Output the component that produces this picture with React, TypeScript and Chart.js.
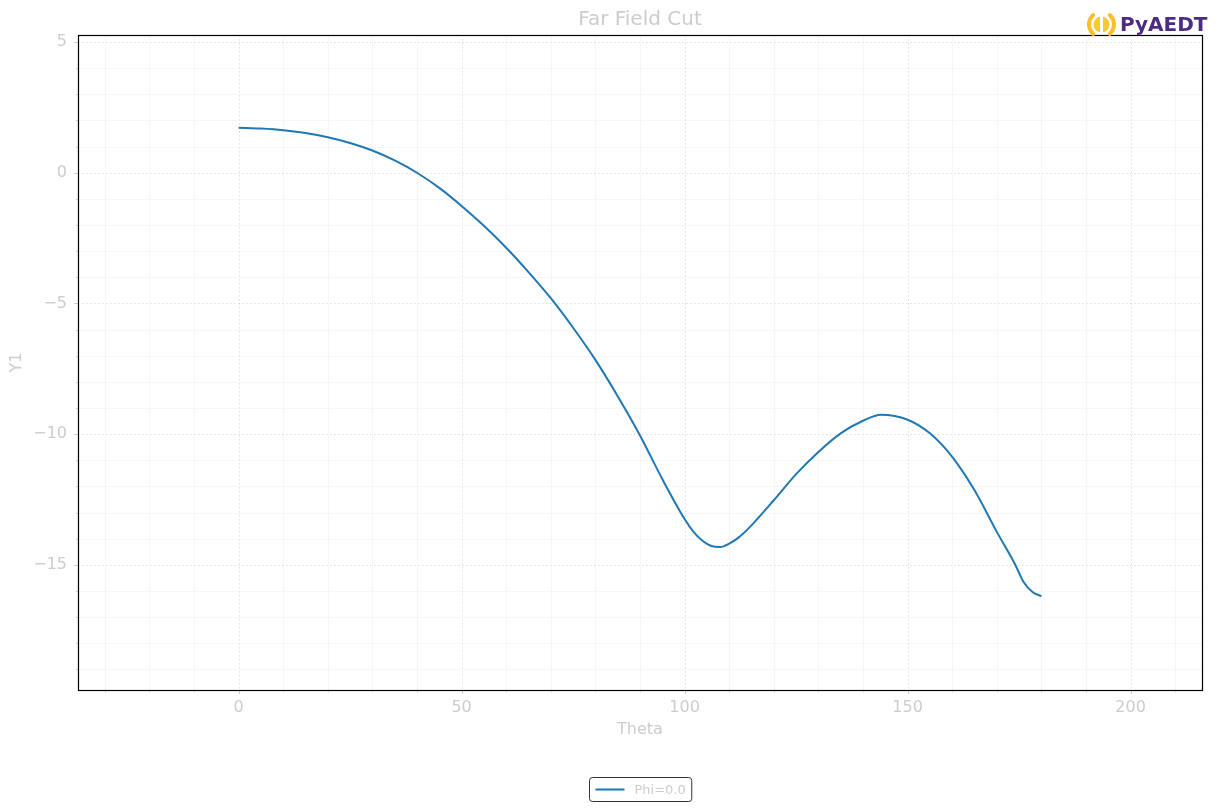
import React from "react"
import { Chart, registerables } from "chart.js"

Chart.register(...registerables)

// values
const theta = [
  0, 5, 10, 15, 20, 25, 30, 35, 40, 45, 50, 55, 60, 65, 70, 75, 80, 85, 90, 95, 100, 102, 104, 106, 108,
  110, 112, 115, 120, 125, 130, 135, 140, 144, 150, 155, 160, 165, 170, 174, 176, 178, 180,
]
const gain = [
  1.72, 1.69, 1.63, 1.52, 1.36, 1.14, 0.85, 0.47, 0.0, -0.58, -1.27, -2.03, -2.87, -3.8, -4.8, -5.93, -7.16,
  -8.55, -10.05, -11.72, -13.25, -13.74, -14.08, -14.28, -14.32, -14.19, -13.97, -13.49, -12.53, -11.53, -10.68,
  -9.97, -9.49, -9.26, -9.45, -9.97, -10.87, -12.15, -13.74, -14.95, -15.66, -16.04, -16.2,
]
const seriesLabel = "Phi=0.0"
const chartTitle = "Far Field Cut"
const xTitle = "Theta"
const yTitle = "Y1"
const xMajorTicks = [0, 50, 100, 150, 200]
const yMajorTicks = [-15, -10, -5, 0, 5]

const FONT = "'DejaVu Sans', sans-serif"
const TEXT = "#cccccc"
const LINE = "#1f77b4"

const minus = (v: number) => String(v).replace("-", "\u2212")

const decor = {
  id: "decor",
  beforeDatasetsDraw(chart: any) {
    const { ctx, chartArea: a, scales } = chart
    const sx = scales.x
    const sy = scales.y
    ctx.save()
    ctx.lineWidth = 1
    // minor grid
    ctx.strokeStyle = "#f6f6f6"
    for (const t of sx.ticks) {
      if (xMajorTicks.includes(t.value)) continue
      const px = Math.round(sx.getPixelForValue(t.value)) + 0.5
      ctx.beginPath(); ctx.moveTo(px, a.top); ctx.lineTo(px, a.bottom); ctx.stroke()
    }
    for (const t of sy.ticks) {
      if (yMajorTicks.includes(t.value)) continue
      const py = Math.round(sy.getPixelForValue(t.value)) + 0.5
      ctx.beginPath(); ctx.moveTo(a.left, py); ctx.lineTo(a.right, py); ctx.stroke()
    }
    // major grid, dotted
    ctx.strokeStyle = "#dedede"
    ctx.setLineDash([1.5, 2.5])
    for (const v of xMajorTicks) {
      const px = Math.round(sx.getPixelForValue(v)) + 0.5
      ctx.beginPath(); ctx.moveTo(px, a.top); ctx.lineTo(px, a.bottom); ctx.stroke()
    }
    for (const v of yMajorTicks) {
      const py = Math.round(sy.getPixelForValue(v)) + 0.5
      ctx.beginPath(); ctx.moveTo(a.left, py); ctx.lineTo(a.right, py); ctx.stroke()
    }
    ctx.restore()
  },
  afterDraw(chart: any) {
    const { ctx, chartArea: a, scales } = chart
    const sx = scales.x
    const sy = scales.y
    ctx.save()

    // tick marks
    ctx.strokeStyle = TEXT
    ctx.lineWidth = 1
    for (const t of sx.ticks) {
      const len = xMajorTicks.includes(t.value) ? 4 : 2
      const px = Math.round(sx.getPixelForValue(t.value)) + 0.5
      ctx.beginPath(); ctx.moveTo(px, a.bottom); ctx.lineTo(px, a.bottom + len); ctx.stroke()
    }
    for (const t of sy.ticks) {
      const len = yMajorTicks.includes(t.value) ? 4 : 2
      const py = Math.round(sy.getPixelForValue(t.value)) + 0.5
      ctx.beginPath(); ctx.moveTo(a.left, py); ctx.lineTo(a.left - len, py); ctx.stroke()
    }

    // frame
    ctx.strokeStyle = "#000"
    ctx.lineWidth = 1.2
    ctx.strokeRect(Math.round(a.left) + 0.5, Math.round(a.top) + 0.5, Math.round(a.right - a.left), Math.round(a.bottom - a.top))

    const cx = (a.left + a.right) / 2

    // title and axis titles
    ctx.fillStyle = TEXT
    ctx.textAlign = "center"
    ctx.textBaseline = "middle"
    ctx.font = `20px ${FONT}`
    ctx.fillText(chartTitle, cx, 20)
    ctx.font = `16px ${FONT}`
    ctx.fillText(xTitle, cx, 730)
    ctx.save()
    ctx.translate(17, (a.top + a.bottom) / 2)
    ctx.rotate(-Math.PI / 2)
    ctx.fillText(yTitle, 0, 0)
    ctx.restore()

    // legend
    const ds = chart.data.datasets[0]
    ctx.font = `13px ${FONT}`
    const tw = ctx.measureText(ds.label).width
    const bw = 6 + 29 + 10 + tw + 6
    const bx = Math.round(cx - bw / 2) + 0.5
    const by = 777.5
    const bh = 24
    ctx.fillStyle = "#fff"
    ctx.strokeStyle = "#333"
    ctx.lineWidth = 1
    ctx.beginPath()
    ctx.roundRect(bx, by, bw, bh, 3)
    ctx.fill()
    ctx.stroke()
    ctx.strokeStyle = ds.borderColor
    ctx.lineWidth = 2
    ctx.beginPath(); ctx.moveTo(bx + 6, by + bh / 2); ctx.lineTo(bx + 35, by + bh / 2); ctx.stroke()
    ctx.fillStyle = TEXT
    ctx.textAlign = "left"
    ctx.fillText(ds.label, bx + 45, by + bh / 2 + 1)

    // PyAEDT logo
    const lx = 1101.5
    const ly = 24.5
    ctx.strokeStyle = "#fdbd2c"
    ctx.lineCap = "round"
    for (const side of [0, 1]) {
      const s = side === 0 ? Math.PI : 0
      ctx.lineWidth = 4
      ctx.beginPath(); ctx.arc(lx, ly, 12.5, s - 0.85, s + 0.85); ctx.stroke()
    }
    ctx.fillStyle = "#ffc832"
    ctx.beginPath(); ctx.arc(lx, ly, 8, 0, Math.PI * 2); ctx.fill()
    ctx.fillStyle = "#fff"
    ctx.fillRect(lx - 1.5, ly - 9, 3, 18)
    ctx.fillStyle = "#4e2c82"
    ctx.font = `bold 20px ${FONT}`
    ctx.textAlign = "left"
    ctx.textBaseline = "alphabetic"
    ctx.fillText("PyAEDT", 1120, 31)

    ctx.restore()
  },
}

const FarFieldChart = () => {
  const chartRef = React.useRef<HTMLCanvasElement>(null)

  React.useEffect(() => {
    if (chartRef.current == null) {
      return
    }

    const points = theta.map((t, i) => ({ x: t, y: gain[i] }))

    const chart = new Chart(chartRef.current, {
      type: "line",
      data: {
        datasets: [
          {
            label: seriesLabel,
            data: points,
            borderColor: LINE,
            borderWidth: 2,
            pointRadius: 0,
            fill: false,
            cubicInterpolationMode: "monotone",
          },
        ],
      },
      plugins: [decor],
      options: {
        responsive: false,
        animation: false,
        layout: { padding: { left: 0, right: 13, top: 35, bottom: 0 } },
        plugins: {
          legend: { display: false },
          title: { display: false },
          tooltip: { enabled: false },
        },
        scales: {
          x: {
            type: "linear",
            min: -36,
            max: 216,
            grid: { display: false, drawTicks: false },
            border: { display: false },
            afterBuildTicks: (scale: any) => {
              const ticks = []
              for (let v = -30; v <= 210; v += 10) ticks.push({ value: v })
              scale.ticks = ticks
            },
            afterFit: (scale: any) => {
              scale.height = 121
            },
            ticks: {
              autoSkip: false,
              maxRotation: 0,
              padding: 8,
              color: TEXT,
              font: { family: FONT, size: 16 },
              callback: (v: any) => (xMajorTicks.includes(v) ? minus(v) : ""),
            },
          },
          y: {
            type: "linear",
            min: -19.79,
            max: 5.27,
            grid: { display: false, drawTicks: false },
            border: { display: false },
            afterBuildTicks: (scale: any) => {
              const ticks = []
              for (let v = -19; v <= 5; v += 1) ticks.push({ value: v })
              scale.ticks = ticks
            },
            afterFit: (scale: any) => {
              scale.width = 78
            },
            ticks: {
              autoSkip: false,
              padding: 11,
              color: TEXT,
              font: { family: FONT, size: 16 },
              callback: (v: any) => (yMajorTicks.includes(v) ? minus(v) : ""),
            },
          },
        },
      },
    })

    return () => {
      chart.destroy()
    }
  }, [])

  return <canvas ref={chartRef} width={1215} height={811} />
}

export default function App() {
  return (
    <div style={{ position: "fixed", left: 0, top: 0, width: 1215, height: 811, background: "#fff" }}>
      <FarFieldChart />
    </div>
  )
}
